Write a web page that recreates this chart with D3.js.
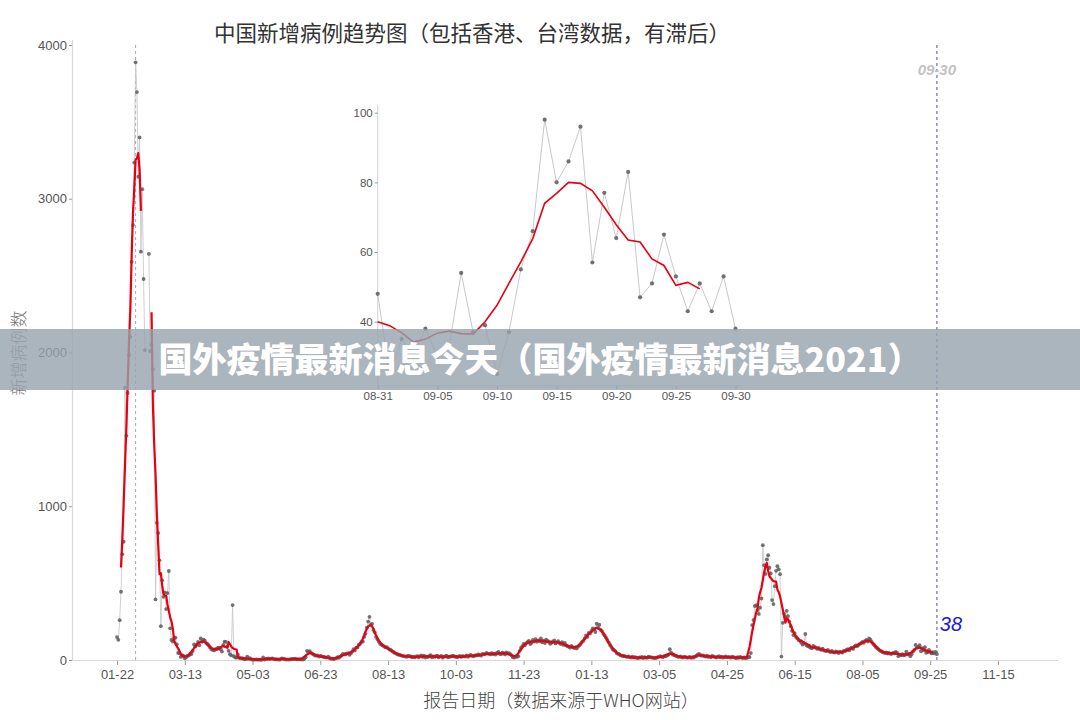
<!DOCTYPE html>
<html><head><meta charset="utf-8">
<script src="https://cdn.jsdelivr.net/npm/d3@7"></script>
<style>
body{margin:0;background:#fff}
svg{display:block}
text{font-family:"Liberation Sans",Arial,sans-serif}
.cjk{font-family:"Noto Sans CJK SC","Noto Sans",sans-serif}
</style>
</head><body>
<svg id="chart" width="1080" height="720"></svg>
<script>
// ---------------- DATA ----------------
const startDate = "2020-01-22";
// daily new cases reported (China incl. HK & Taiwan), 2020-01-22 .. 2020-12-31
const cases2020 = [
  // Jan 22-31
  149,131,259,444,688,769,1771,1459,1737,1982,
  // Feb (13th & 14th are off the 0-4000 scale)
  2102,2590,2829,3235,3887,3694,3143,3399,2656,3062,2478,2015,14108,5090,2641,2009,2051,1891,1752,394,892,826,648,220,518,411,439,331,435,
  // Mar
  579,206,130,120,143,146,102,46,45,20,31,26,11,18,27,29,39,39,58,101,89,100,118,96,140,118,133,128,112,104,96,
  // Apr
  82,70,66,62,70,72,80,78,70,55,99,120,118,89,60,38,30,357,25,17,15,34,14,10,12,8,5,6,22,7,
  // May
  12,4,3,3,3,4,2,3,2,1,17,3,7,6,11,6,9,10,6,5,4,4,2,5,11,9,7,3,4,3,4,
  // Jun
  5,7,6,9,5,4,6,4,5,3,8,18,60,52,58,48,40,35,30,28,30,22,26,24,22,18,17,16,22,12,
  // Jul
  8,9,6,9,12,18,14,22,30,40,36,38,42,45,34,44,55,70,62,80,82,100,105,118,120,150,170,210,250,281,230,
  // Aug
  235,195,180,150,135,120,105,100,95,88,82,84,76,68,66,58,52,46,42,38,34,33,29,27,24,23,21,28,25,23,18,
  // Sep
  20,17,22,25,18,24,30,20,28,16,22,19,26,31,17,24,20,25,28,18,22,26,15,21,24,29,18,20,23,25,
  // Oct
  28,24,20,18,22,26,20,25,24,22,30,21,26,33,28,24,27,31,30,36,32,28,40,36,38,46,42,40,36,44,38,
  // Nov
  42,35,46,52,40,38,47,44,36,50,41,45,38,30,18,16,22,20,25,60,78,90,105,96,110,118,125,104,112,130,
  // Dec
  120,135,118,128,122,140,115,126,110,132,124,118,105,112,120,128,108,115,122,110,104,116,98,112,95,90,86,80,92,84,78
];
// 2021-01-01 .. 2021-09-30
const cases2021 = [
  // Jan
  82,75,88,96,105,118,125,140,160,150,176,172,190,205,198,182,236,210,230,195,188,170,160,146,130,115,98,84,70,64,58,
  // Feb
  45,40,38,30,28,26,25,22,20,24,18,16,21,15,19,14,12,17,15,20,13,18,16,14,22,19,17,15,
  // Mar
  14,12,16,18,22,25,20,19,26,24,30,35,70,48,38,32,30,26,22,20,24,18,16,22,19,15,17,20,14,18,16,
  // Apr
  22,26,35,40,32,28,30,25,22,28,20,24,18,26,22,19,16,20,25,18,22,15,19,24,17,20,18,15,21,19,
  // May
  15,12,18,14,20,16,13,17,12,14,18,20,45,227,260,351,357,325,300,340,400,747,617,560,654,682,600,563,390,364,480,
  // Jun
  580,610,590,558,22,242,300,280,320,286,250,220,190,162,175,150,140,130,125,112,100,108,169,95,90,86,80,76,92,85,
  // Jul
  80,72,78,70,66,74,62,60,58,65,55,52,60,50,48,56,52,45,55,50,48,60,58,65,70,62,75,80,72,88,95,
  // Aug
  90,98,105,110,118,112,125,130,120,140,132,118,105,96,85,78,70,62,58,52,48,45,50,42,46,40,40,46,44,52,48,
  // Sep
  25,35,30,38,30,33,54,37,39,25,37,55,66,98,80,86,96,57,77,64,83,47,51,65,53,43,51,43,53,38
];
const xTickDates = ["2020-01-22","2020-03-13","2020-05-03","2020-06-23","2020-08-13","2020-10-03",
  "2020-11-23","2021-01-13","2021-03-05","2021-04-25","2021-06-15","2021-08-05","2021-09-25","2021-11-15"];
const yTicks = [0,1000,2000,3000,4000];
const peakDate = "2020-02-05";
const latestDate = "2021-09-30";
const insetRange = ["2021-08-31","2021-09-30"];
const insetTickDates = ["2021-08-31","2021-09-05","2021-09-10","2021-09-15","2021-09-20","2021-09-25","2021-09-30"];
const insetYTicks = [40,60,80,100];
const titleText = "中国新增病例趋势图（包括香港、台湾数据，有滞后）";
const yLabel = "新增病例数";
const xLabel = "报告日期（数据来源于WHO网站）";
const bannerText = "国外疫情最新消息今天（国外疫情最新消息2021）";

// ---------------- BUILD ----------------
const parse = d3.utcParse("%Y-%m-%d");
const fmt = d3.utcFormat("%m-%d");
const t0 = parse(startDate);
const values = cases2020.concat(cases2021);
const data = values.map((v,i)=>({date:d3.utcDay.offset(t0,i), v}));
// centred 7-day mean (as in the original chart)
data.forEach((d,i)=>{
  if(i<3 || i>data.length-4){d.m=null;return;}
  let s=0;
  for(let k=-3;k<=3;k++){const w=data[i+k].v; if(w==null){d.m=null;return;} s+=w;}
  d.m=s/7;
});
const yMax = 4000;

const svg = d3.select("#chart");
const x = d3.scaleUtc().domain([parse(xTickDates[0]), parse(xTickDates[xTickDates.length-1])]).range([117,998]);
const y = d3.scaleLinear().domain([0,yMax]).range([660,45]);
const axisColor="#d9d9d9", tickText="#555";

// axis lines
svg.append("line").attr("x1",72).attr("x2",1058).attr("y1",660.5).attr("y2",660.5).attr("stroke",axisColor).attr("stroke-width",1.2);
svg.append("line").attr("x1",72.5).attr("x2",72.5).attr("y1",40).attr("y2",660).attr("stroke",axisColor).attr("stroke-width",1.2);

const gx = svg.append("g").attr("transform","translate(0,661)")
  .call(d3.axisBottom(x).tickValues(xTickDates.map(parse)).tickFormat(fmt).tickSize(4).tickPadding(5));
gx.select(".domain").remove();
gx.selectAll(".tick line").attr("stroke","#999");
gx.selectAll(".tick text").attr("fill",tickText).style("font-size","13px");

const gy = svg.append("g").attr("transform","translate(72,0)")
  .call(d3.axisLeft(y).tickValues(yTicks).tickFormat(d3.format("d")).tickSize(3).tickPadding(2));
gy.select(".domain").remove();
gy.selectAll(".tick line").attr("stroke","#999");
gy.selectAll(".tick text").attr("fill",tickText).style("font-size","13px");

// reference lines
svg.append("line").attr("x1",x(parse(peakDate))).attr("x2",x(parse(peakDate)))
  .attr("y1",45).attr("y2",660).attr("stroke","#aaa").attr("stroke-width",1).attr("stroke-dasharray","3,3");
const xl = x(parse(latestDate));
svg.append("line").attr("x1",xl).attr("x2",xl).attr("y1",45).attr("y2",660)
  .attr("stroke","#6b68d8").attr("stroke-width",1.2).attr("stroke-dasharray","3,3");

// main series (values beyond the axis limit are dropped, breaking the lines)
const inV = d=>d.v!=null && d.v<=yMax;
const inM = d=>d.m!=null && d.m<=yMax;
const greyLine = d3.line().defined(inV).x(d=>x(d.date)).y(d=>y(d.v));
const redLine = d3.line().defined(inM).x(d=>x(d.date)).y(d=>y(d.m));
svg.append("path").datum(data).attr("d",greyLine).attr("fill","none").attr("stroke","#c9c9c9").attr("stroke-width",0.9);
svg.append("g").selectAll("circle").data(data.filter(inV)).join("circle")
  .attr("cx",d=>x(d.date)).attr("cy",d=>y(d.v)).attr("r",1.9).attr("fill","#5a5a5a").attr("opacity",0.85);
svg.append("path").datum(data).attr("d",redLine).attr("fill","none").attr("stroke","#e60012").attr("stroke-width",2.2).attr("stroke-linejoin","round");

// annotations
svg.append("text").attr("x",xl).attr("y",75).attr("text-anchor","middle")
  .attr("fill","#c2c2c2").style("font-size","15px").style("font-style","italic").style("font-weight","bold").text(fmt(parse(latestDate)));
const lastVal = data[data.length-1].v;
svg.append("text").attr("x",xl+3).attr("y",631)
  .attr("fill","#1a1ad6").style("font-size","20px").style("font-style","italic").text(lastVal);

// ---------------- INSET ----------------
const ir = insetRange.map(parse);
const xi = d3.scaleUtc().domain(ir).range([377.7,735.5]);
const yi = d3.scaleLinear().domain([40,100]).range([321.7,112.7]);
const insetData = data.filter(d=>d.date>=ir[0] && d.date<=ir[1]);
svg.append("line").attr("x1",377.7).attr("x2",377.7).attr("y1",105).attr("y2",386).attr("stroke",axisColor).attr("stroke-width",1.2);
svg.append("line").attr("x1",377.7).attr("x2",742).attr("y1",386).attr("y2",386).attr("stroke",axisColor).attr("stroke-width",1.2);
const gix = svg.append("g").attr("transform","translate(0,386)")
  .call(d3.axisBottom(xi).tickValues(insetTickDates.map(parse)).tickFormat(fmt).tickSize(3).tickPadding(3));
gix.select(".domain").remove();
gix.selectAll(".tick line").attr("stroke","#999");
gix.selectAll(".tick text").attr("fill",tickText).style("font-size","11.5px");
const giy = svg.append("g").attr("transform","translate(377.7,0)")
  .call(d3.axisLeft(yi).tickValues(insetYTicks).tickSize(3).tickPadding(2));
giy.select(".domain").remove();
giy.selectAll(".tick line").attr("stroke","#999");
giy.selectAll(".tick text").attr("fill",tickText).style("font-size","11.5px");

const gL = d3.line().x(d=>xi(d.date)).y(d=>yi(d.v));
const rL = d3.line().defined(d=>d.m!=null).x(d=>xi(d.date)).y(d=>yi(d.m));
svg.append("path").datum(insetData).attr("d",gL).attr("fill","none").attr("stroke","#c9c9c9").attr("stroke-width",1);
svg.append("g").selectAll("circle").data(insetData).join("circle")
  .attr("cx",d=>xi(d.date)).attr("cy",d=>yi(d.v)).attr("r",2.1).attr("fill","#5a5a5a").attr("opacity",0.85);
svg.append("path").datum(insetData).attr("d",rL).attr("fill","none").attr("stroke","#e60012").attr("stroke-width",1.6);

// ---------------- TEXT ----------------
svg.append("text").attr("class","cjk").attr("x",472).attr("y",41).attr("text-anchor","middle")
  .attr("fill","#333").style("font-size","21.5px").style("font-weight","400").text(titleText);
svg.append("text").attr("class","cjk").attr("transform","translate(25,353) rotate(-90)").attr("text-anchor","middle")
  .attr("fill","#777").style("font-size","17px").style("font-weight","300").text(yLabel);
svg.append("text").attr("class","cjk").attr("x",561).attr("y",707).attr("text-anchor","middle")
  .attr("fill","#444").style("font-size","18px").style("font-weight","300").text(xLabel);

// banner overlay
svg.append("rect").attr("x",0).attr("y",329).attr("width",1080).attr("height",61).attr("fill","rgb(150,162,172)").attr("opacity",0.8);
svg.append("text").attr("class","cjk").attr("x",540).attr("y",372).attr("text-anchor","middle")
  .attr("fill","#fff").style("font-size","34px").style("font-weight","900").text(bannerText);
</script>
</body></html>
